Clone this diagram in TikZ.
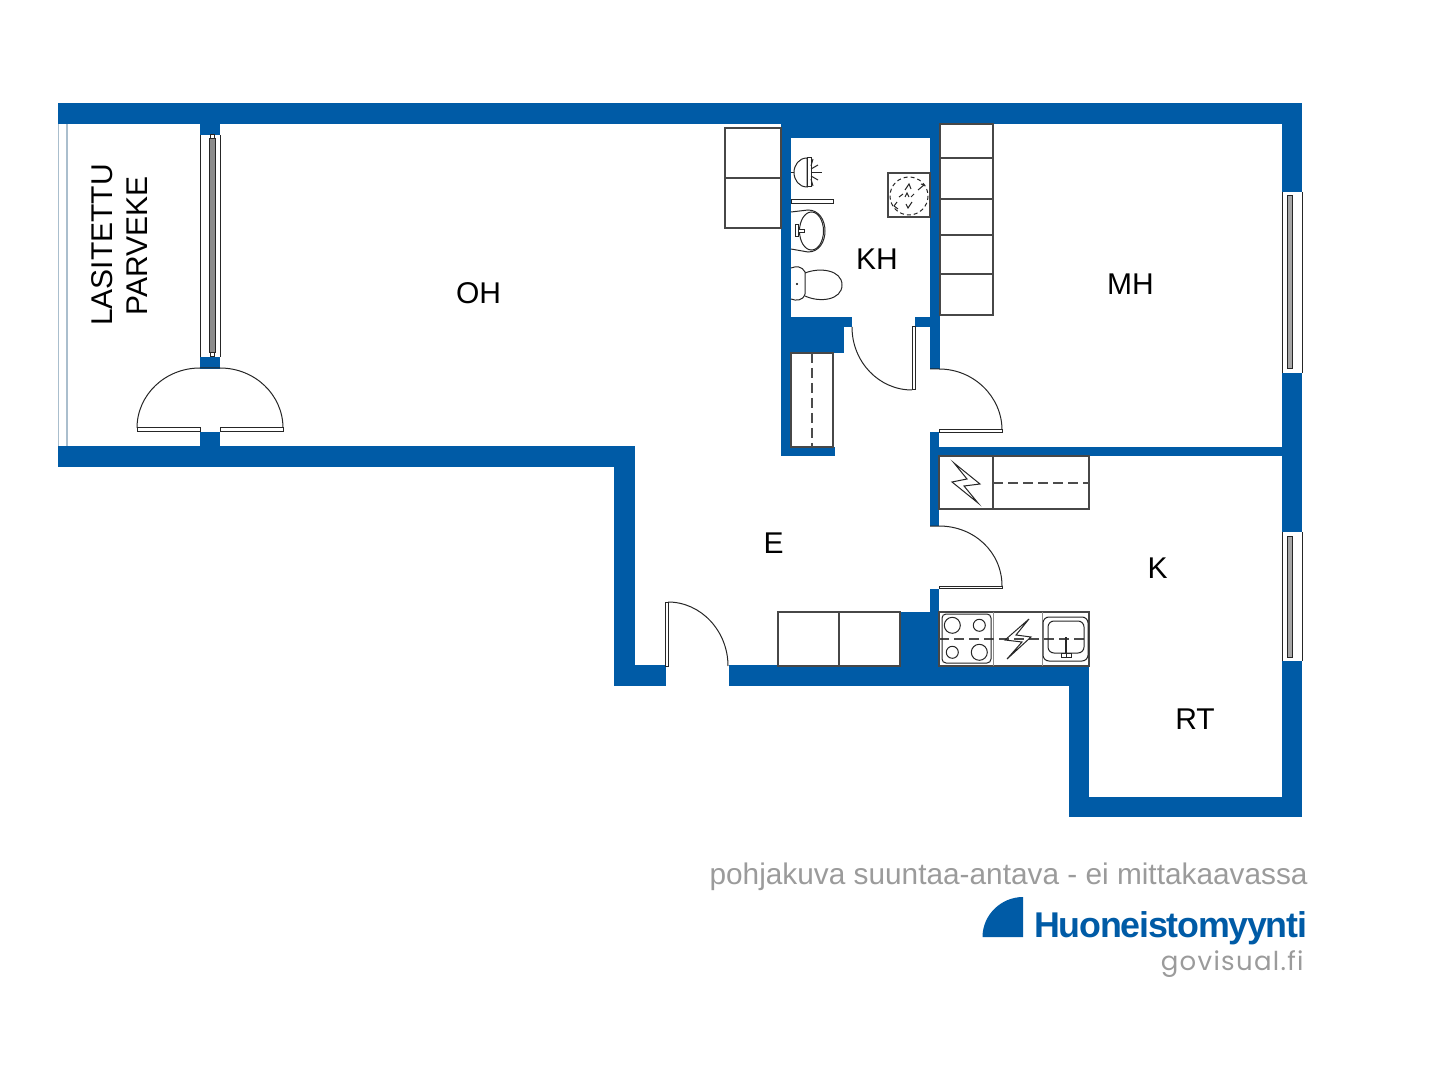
\documentclass[tikz,border=0pt]{standalone}
\usepackage{fontspec}
\setmainfont{Liberation Sans}
\newfontfamily\brandfont[LetterSpace=-3.5]{Liberation Sans}
\newfontfamily\sitefont[LetterSpace=5]{Poppins}
\definecolor{wallblue}{RGB}{0,91,166}
\definecolor{textgray}{RGB}{155,155,155}
\definecolor{glassblue}{RGB}{170,190,205}
\begin{document}
\begin{tikzpicture}[x=0.5pt,y=-0.5pt]
\tikzstyle{wall} = [fill=wallblue]
\tikzstyle{thin} = [draw=black!72, line width=0.55pt]
\tikzstyle{fixture} = [draw=black!85, line width=0.5pt]
\tikzstyle{leaf} = [draw=black!85, fill=white, line width=0.5pt]
\tikzstyle{roomlabel} = [inner sep=0pt, font=\fontsize{15}{15}\selectfont]
\tikzstyle{dashline} = [draw=black!70, line width=0.6pt, dash pattern=on 5pt off 2.5pt]
\useasboundingbox (0,0) rectangle (1440,1080);
\fill[wall] (58,103) rectangle (1302,124);
\fill[wall] (58,446) rectangle (635,467);
\fill[wall] (614,446) rectangle (635,686);
\fill[wall] (614,665) rectangle (666,686);
\fill[wall] (729,665) rectangle (1089,686);
\fill[wall] (1069,665) rectangle (1089,817);
\fill[wall] (1069,797) rectangle (1302,817);
\fill[wall] (1282,103) rectangle (1302,192);
\fill[wall] (1282,373) rectangle (1302,532);
\fill[wall] (1282,661) rectangle (1302,817);
\fill[wall] (930,447) rectangle (1282,456);
\fill[wall] (930,124) rectangle (940,369);
\fill[wall] (915,317) rectangle (930,327);
\fill[wall] (930,432) rectangle (939,526);
\fill[wall] (930,589) rectangle (939,612);
\fill[wall] (900,612) rectangle (940,665);
\fill[wall] (781,124) rectangle (791,456);
\fill[wall] (781,124) rectangle (940,138);
\fill[wall] (791,317) rectangle (852,327);
\fill[wall] (791,327) rectangle (844,353);
\fill[wall] (781,447) rectangle (835,456);
\fill[wall] (200,124) rectangle (220,135);
\fill[wall] (200,357) rectangle (220,369);
\fill[wall] (200,432) rectangle (220,446);
\draw[glassblue, line width=0.5pt] (58,124) -- (58,446);
\draw[glassblue, line width=0.8pt] (67,124) -- (67,446);
\draw[fixture] (200,135) -- (200,357);
\draw[fixture] (220,135) -- (220,357);
\draw[fixture, fill=black!45] (209,139) rectangle (215,353);
\draw[fixture, fill=white] (210,135) rectangle (214,139);
\draw[fixture, fill=white] (210,353) rectangle (214,357);
\draw[fixture] (1282,192) -- (1282,373);
\draw[fixture] (1302,192) -- (1302,373);
\draw[fixture, fill=black!35] (1287,196) rectangle (1292,369);
\draw[fixture] (1282,532) -- (1282,661);
\draw[fixture] (1302,532) -- (1302,661);
\draw[fixture, fill=black!35] (1287,536) rectangle (1292,657);
\draw[fixture] (137,428) .. controls (137,395) and (165,368) .. (200,368) -- (220,368) .. controls (255,368) and (283,395) .. (283,428);
\draw[leaf] (137,428) -- (200,428) -- (200,432) -- (137,432) -- cycle;
\draw[leaf] (220,428) -- (283,428) -- (283,432) -- (220,432) -- cycle;
\draw[fixture] (852,327) .. controls (852,362) and (879,390) .. (912,390);
\draw[leaf] (912,327) rectangle (915,390);
\draw[fixture] (930,369) -- (939,369) .. controls (974,369) and (1002,397) .. (1002,430);
\draw[leaf] (939,430) rectangle (1002,432.5);
\draw[fixture] (930,526) -- (939,526) .. controls (974,526) and (1002,552) .. (1002,586);
\draw[leaf] (939,586) rectangle (1002,588.5);
\draw[leaf] (665,602) rectangle (668,666);
\draw[fixture] (668,602) .. controls (701,602) and (728,631) .. (728,666);
\draw[thin] (725,128) rectangle (781,228);
\draw[thin] (725,178) -- (781,178);
\draw[thin] (940,124) rectangle (993,315);
\foreach \y in {158,199,235,274} {
\draw[thin] (940,\y) -- (993,\y);
}
\draw[thin] (791,353) rectangle (833,447);
\draw[dashline] (812,353) -- (812,447);
\draw[thin] (778,612) rectangle (900,666);
\draw[thin] (839,612) -- (839,666);
\draw[fixture] (807,158) .. controls (799,158) and (794,165) .. (794,172.5) .. controls (794,180) and (799,187) .. (807,187) -- cycle;
\draw[fixture] (807,158) rectangle (811,187);
\draw[fixture] (791,172.5) -- (794,172.5);
\draw[fixture] (811,172.5) -- (822,172.5);
\draw[fixture] (811,169) -- (818,165);
\draw[fixture] (811,166) -- (813,159);
\draw[fixture] (811,176) -- (818,180);
\draw[fixture] (811,179) -- (813,186);
\draw[fixture, fill=white] (791,200) rectangle (833.5,204);
\draw[fixture] (791,212) -- (808,210) .. controls (819,210) and (825,220) .. (825,231) .. controls (825,242) and (819,252) .. (808,252) -- (791,249);
\draw[fixture] (811.5,231) ellipse [x radius=12, y radius=19];
\draw[fixture, fill=white] (795,225) rectangle (798,237);
\draw[fixture, fill=white] (798,230) rectangle (804,233);
\draw[fixture] (791,268) .. controls (796,266) and (802,266) .. (805,272) -- (805,294) .. controls (803,301) and (796,301) .. (791,299);
\draw[fixture] (805,273) .. controls (820,267) and (842,270) .. (842,285) .. controls (842,300) and (820,303) .. (805,296);
\fill[black] (797,284) circle [radius=1.2];
\draw[thin] (888,173) rectangle (930,217);
\draw[fixture, dash pattern=on 2pt off 1.5pt] (909,196) circle [radius=19];
\draw[fixture] (905,190) -- (909,184) -- (911,189);
\draw[fixture] (918,190) -- (924,185) -- (921,184);
\draw[fixture] (899,197) -- (903,194);
\draw[fixture] (905,197) -- (907,193) -- (909,197);
\draw[fixture] (911,197) -- (914,194);
\draw[fixture] (897,202) -- (894,206) -- (898,209);
\draw[fixture] (906,204) -- (908,208) -- (912,202);
\draw[thin] (939,456) rectangle (1089,509);
\draw[thin] (993,456) -- (993,509);
\draw[dashline] (993,483) -- (1089,483);
\draw[fixture] (954,463) -- (980,484) -- (964,486) -- (978,503) -- (952,482) -- (967,479) -- cycle;
\draw[thin] (939,612) rectangle (1089,666);
\draw[draw=black!45, line width=0.5pt] (993,612) -- (993,666);
\draw[draw=black!45, line width=0.5pt] (1042,612) -- (1042,666);
\draw[dashline] (939,639) -- (1089,639);
\draw[fixture, rounded corners=2pt] (942,614) rectangle (991,663);
\draw[fixture] (952.3,625.3) circle [radius=8];
\draw[fixture] (979.3,625.3) circle [radius=6];
\draw[fixture] (952.3,652.3) circle [radius=6];
\draw[fixture] (979.3,652.3) circle [radius=8];
\draw[fixture] (1029,619) -- (1005,640) -- (1022,642) -- (1007,659) -- (1031,637) -- (1016,635) -- cycle;
\draw[fixture, rounded corners=3pt] (1043,617) rectangle (1088,661);
\draw[fixture, rounded corners=3pt] (1048,621) rectangle (1084,653);
\draw[fixture, line width=0.8pt] (1065.7,637) -- (1065.7,653);
\draw[fixture] (1061,653) rectangle (1066,657);
\draw[fixture] (1066,653) rectangle (1071,657);
\fill[wallblue] (1023,937) -- (982.5,937) .. controls (982.5,915) and (1001,897) .. (1023,897) -- cycle;
\node [roomlabel] (nodeOH) at (478.5,293) {OH};
\node [roomlabel] (nodeKH) at (877,259) {KH};
\node [roomlabel] (nodeMH) at (1130.5,284) {MH};
\node [roomlabel] (nodeE) at (773.5,543) {E};
\node [roomlabel] (nodeK) at (1157.5,568) {K};
\node [roomlabel] (nodeRT) at (1195,719) {RT};
\node [roomlabel, rotate=90] (nodeLasitettu) at (102,245) {LASITETTU};
\node [roomlabel, rotate=90] (nodeParveke) at (137,246) {PARVEKE};
\node [inner sep=0pt, anchor=base east, text=textgray, font=\fontsize{14.9}{15}\selectfont] (nodeNote) at (1308,884) {pohjakuva suuntaa-antava - ei mittakaavassa};
\node [inner sep=0pt, anchor=base east, text=wallblue, font=\fontsize{17.9}{18}\brandfont\bfseries] (nodeBrand) at (1307.5,937) {Huoneistomyynti};
\node [inner sep=0pt, anchor=base east, text=textgray, font=\fontsize{13}{14}\sitefont] (nodeSite) at (1304,970) {govisual.fi};
\end{tikzpicture}
\end{document}
